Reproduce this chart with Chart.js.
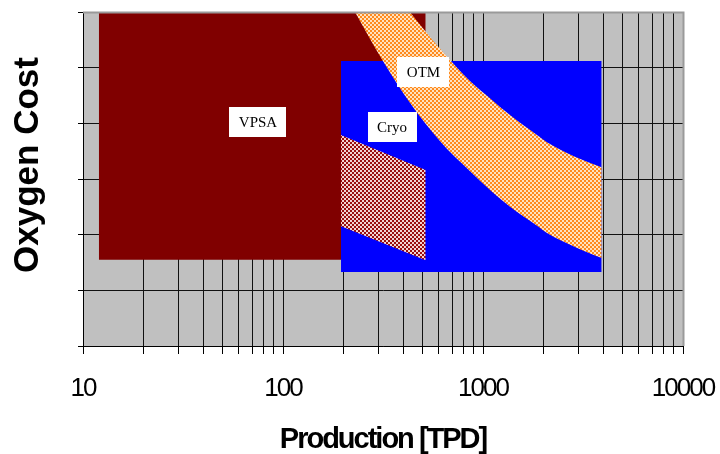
<!DOCTYPE html>
<html>
<head>
<meta charset="utf-8">
<script src="https://cdn.jsdelivr.net/npm/chart.js@4/dist/chart.umd.min.js"></script>
<style>
  html, body { margin: 0; padding: 0; background: #fff; }
  #wrap { width: 720px; height: 454px; }
</style>
</head>
<body>
<div id="wrap"><canvas id="c" width="720" height="454"></canvas></div>
<script>
// Axis ticks
const xTickLabels = [10, 100, 1000, 10000];
const costTicks = [0, 1, 2, 3, 4, 5, 6];

// VPSA operating region (production range, cost band)
const vpsaX = [12, 517];
const vpsaTop = [6, 6];
const vpsaBottom = 1.55;

// Cryogenic distillation region
const cryoX = [195, 3920];
const cryoTop = [5.12, 5.12];
const cryoBottom = 1.33;

// Small-scale cryogenic sub-region (hatched)
const cryoHatchX = [195, 517];
const cryoHatchUpper = [3.79, 3.16];
const cryoHatchLower = [2.15, 1.54];

// OTM band, upper and lower boundary
const otmX     = [193, 229, 316, 431, 610, 861, 1109, 1365, 1862, 2089, 2884, 3920];
const otmUpper = [7.83, 7.38, 6.63, 6.00, 5.34, 4.76, 4.42, 4.15, 3.79, 3.66, 3.40, 3.21];
const otmLower = [6.50, 6.00, 5.12, 4.37, 3.68, 3.14, 2.77, 2.50, 2.16, 2.03, 1.78, 1.58];

// Region names and where their tags sit (data coordinates)
const regionNames = ['VPSA', 'OTM', 'Cryo'];
const regionTagAt = { VPSA: [75, 4.02], OTM: [504, 4.92], Cryo: [351, 3.93] };

const canvas = document.getElementById('c');
const ctx2d = canvas.getContext('2d');

function checker(c1, c2, cell) {
  const cv = document.createElement('canvas');
  cv.width = cv.height = cell * 2;
  const g = cv.getContext('2d');
  g.fillStyle = c2; g.fillRect(0, 0, cell * 2, cell * 2);
  g.fillStyle = c1; g.fillRect(0, 0, cell, cell); g.fillRect(cell, cell, cell, cell);
  return ctx2d.createPattern(cv, 'repeat');
}
const otmPattern = checker('#ff8a1e', '#ffe2c0', 2);
const hatchPattern = checker('#9a0f0f', '#f2d4d4', 2);

const pts = (xs, ys) => xs.map((x, i) => ({ x, y: ys[i] }));
const edge = { borderWidth: 0, pointRadius: 0, pointHoverRadius: 0, borderColor: 'rgba(0,0,0,0)' };

// every 1..9 x 10^n position on the log axis gets a grid line
const xGrid = [];
for (let d = 10; d < 10000; d *= 10) for (let m = 1; m < 10; m++) xGrid.push(m * d);
xGrid.push(10000);

const frame = {
  id: 'frame',
  beforeDraw(chart) {
    const { ctx, chartArea: a } = chart;
    ctx.save();
    ctx.fillStyle = '#c0c0c0';
    ctx.fillRect(a.left, a.top, a.right - a.left, a.bottom - a.top);
    ctx.restore();
    // axis lettering is set tight, like a condensed face
    ctx.letterSpacing = '-2px';
  },
  beforeDatasetsDraw(chart) {
    chart.ctx.letterSpacing = '0px';
  },
  afterDatasetsDraw(chart) {
    const { ctx, chartArea: a, scales: { x, y } } = chart;
    ctx.save();
    ctx.strokeStyle = '#9a9a9a';
    ctx.lineWidth = 2;
    ctx.beginPath();
    ctx.moveTo(a.left, a.top + 0.5);
    ctx.lineTo(a.right + 0.5, a.top + 0.5);
    ctx.lineTo(a.right + 0.5, a.bottom);
    ctx.stroke();
    // region tags
    ctx.font = '15px "Liberation Serif", "Times New Roman", serif';
    ctx.textAlign = 'center';
    ctx.textBaseline = 'middle';
    regionNames.forEach(name => {
      const [vx, vy] = regionTagAt[name];
      const px = x.getPixelForValue(vx), py = y.getPixelForValue(vy);
      const w = ctx.measureText(name).width + 19, h = 30;
      ctx.fillStyle = '#ffffff';
      ctx.fillRect(Math.round(px - w / 2), Math.round(py - h / 2), Math.round(w), h);
      ctx.fillStyle = '#000000';
      ctx.fillText(name, px, py + 1);
    });
    ctx.restore();
  },
  afterDraw(chart) {
    const { ctx } = chart;
    ctx.save();
    ctx.letterSpacing = '0px';
    ctx.translate(28, 165);
    ctx.rotate(-Math.PI / 2);
    ctx.font = 'bold 35px "Liberation Sans", Arial, sans-serif';
    ctx.fillStyle = '#000';
    ctx.textAlign = 'center';
    ctx.textBaseline = 'middle';
    ctx.fillText('Oxygen Cost', 0, 0);
    ctx.restore();
  }
};

new Chart(canvas, {
  type: 'line',
  data: {
    datasets: [
      { ...edge, data: pts(otmX, otmUpper), fill: false, order: 1, cubicInterpolationMode: 'monotone' },
      { ...edge, data: pts(otmX, otmLower), fill: { target: '-1' }, backgroundColor: otmPattern, order: 1, cubicInterpolationMode: 'monotone' },
      { ...edge, data: pts(cryoHatchX, cryoHatchUpper), fill: false, order: 2 },
      { ...edge, data: pts(cryoHatchX, cryoHatchLower), fill: { target: '-1' }, backgroundColor: hatchPattern, order: 2 },
      { ...edge, data: pts(cryoX, cryoTop), fill: { value: cryoBottom }, backgroundColor: '#0000ff', order: 3 },
      { ...edge, data: pts(vpsaX, vpsaTop), fill: { value: vpsaBottom }, backgroundColor: '#800000', order: 4 }
    ]
  },
  options: {
    responsive: false,
    animation: false,
    events: [],
    layout: { padding: { top: 12, right: 37, left: 0, bottom: 0 } },
    plugins: { legend: { display: false }, tooltip: { enabled: false } },
    scales: {
      x: {
        type: 'logarithmic',
        min: 10, max: 10000,
        afterBuildTicks(s) { s.ticks = xGrid.map(v => ({ value: v, major: xTickLabels.includes(v) })); },
        afterFit(s) { s.height = 108; s.paddingLeft = 0; s.paddingRight = 0; },
        ticks: {
          autoSkip: false, maxRotation: 0, minRotation: 0,
          padding: 19,
          color: '#000',
          font: { family: '"Liberation Sans", Arial, sans-serif', size: 26 },
          callback: v => xTickLabels.includes(v) ? String(v) : ''
        },
        grid: { color: '#111', lineWidth: 1, tickLength: 8, tickColor: '#000' },
        border: { display: true, color: '#000', width: 1 },
        title: {
          display: true, text: 'Production [TPD]', color: '#000',
          font: { family: '"Liberation Sans", Arial, sans-serif', size: 29, weight: 'bold', lineHeight: 1 },
          padding: { top: 0, bottom: 0 }
        }
      },
      y: {
        type: 'linear',
        min: 0, max: 6,
        afterBuildTicks(s) { s.ticks = costTicks.map(v => ({ value: v })); },
        afterFit(s) { s.width = 83; },
        ticks: { callback: () => '', padding: 0 },
        grid: { color: '#111', lineWidth: 1, tickLength: 5, tickColor: '#000' },
        border: { display: true, color: '#000', width: 1 }
      }
    }
  },
  plugins: [frame]
});
</script>
</body>
</html>
